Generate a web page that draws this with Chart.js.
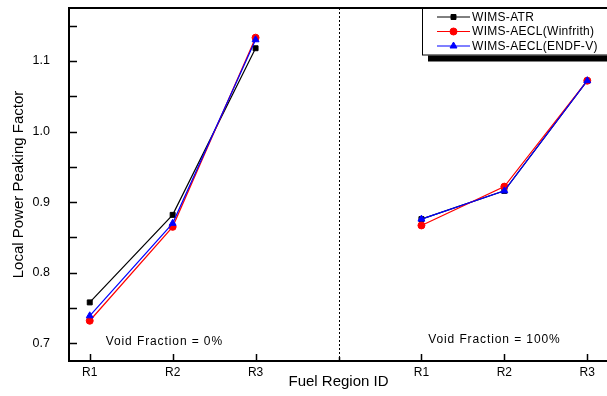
<!DOCTYPE html>
<html><head><meta charset="utf-8">
<script src="https://cdn.jsdelivr.net/npm/chart.js@4/dist/chart.umd.min.js"></script>
<style>html,body{margin:0;padding:0;background:#fff;overflow:hidden;width:607px;height:396px}canvas{display:block}</style>
</head><body><canvas id="c" width="613" height="396"></canvas>
<script>
const regions = ['R1', 'R2', 'R3'];
const panelNotes = ['Void Fraction = 0%', 'Void Fraction = 100%'];
const seriesNames = ['WIMS-ATR', 'WIMS-AECL(Winfrith)', 'WIMS-AECL(ENDF-V)'];
const atrVoid0 = [0.758, 0.882, 1.118];
const winVoid0 = [0.732, 0.865, 1.133];
const endfVoid0 = [0.739, 0.870, 1.130];
const atrVoid100 = [0.876, 0.916, 1.072];
const winVoid100 = [0.867, 0.922, 1.072];
const endfVoid100 = [0.876, 0.916, 1.072];
const yTickValues = [0.70, 0.75, 0.80, 0.85, 0.90, 0.95, 1.00, 1.05, 1.10, 1.15];
const yLabelValues = [0.7, 0.8, 0.9, 1.0, 1.1];

const FONT = 'Arial, "Liberation Sans", sans-serif';
Chart.defaults.font.family = FONT;
Chart.defaults.color = '#000';

// x positions: left panel slots 1..3, divider at 4, right panel slots 5..7
function buildSeries(v0, v100) {
  const pts = v0.map((y, i) => ({x: i + 1, y}));
  pts.push({x: 4, y: null});
  v100.forEach((y, i) => pts.push({x: i + 5, y}));
  return pts;
}
const xTickSlots = [1, 2, 3, 4, 5, 6, 7];
function slotLabel(v) {
  if (v >= 1 && v <= 3) return regions[v - 1];
  if (v >= 5 && v <= 7) return regions[v - 5];
  return '';
}

const styles = [
  {color: '#000000', pointStyle: 'rect', radius: 3.5, order: 3},
  {color: '#ff0000', pointStyle: 'circle', radius: 3.5, order: 2},
  {color: '#0000ff', pointStyle: 'triangle', radius: 4, order: 1}
];
const seriesData = [
  buildSeries(atrVoid0, atrVoid100),
  buildSeries(winVoid0, winVoid100),
  buildSeries(endfVoid0, endfVoid100)
];

const decor = {
  id: 'decor',
  afterDraw(chart) {
    const ctx = chart.ctx;
    const a = chart.chartArea;
    const xs = chart.scales.x, ys = chart.scales.y;
    ctx.save();
    // frame
    ctx.strokeStyle = '#000';
    ctx.lineWidth = 2;
    ctx.beginPath();
    ctx.moveTo(a.left, a.top); ctx.lineTo(a.right, a.top);
    ctx.moveTo(a.left, a.top - 1); ctx.lineTo(a.left, a.bottom + 1);
    ctx.moveTo(a.left, a.bottom); ctx.lineTo(a.right, a.bottom);
    ctx.stroke();
    // inward ticks
    ctx.lineWidth = 1.5;
    ctx.beginPath();
    ys.ticks.forEach(t => {
      const py = Math.round(ys.getPixelForValue(t.value)) + 0.5;
      ctx.moveTo(a.left, py); ctx.lineTo(a.left + 8, py);
    });
    xs.ticks.forEach(t => {
      const px = Math.round(xs.getPixelForValue(t.value)) + 0.5;
      const len = t.value === 4 ? 4 : 7;
      ctx.moveTo(px, a.bottom); ctx.lineTo(px, a.bottom - len);
    });
    ctx.stroke();
    // dotted divider
    const dx = Math.round(xs.getPixelForValue(4)) + 0.5;
    ctx.lineWidth = 1;
    ctx.setLineDash([2, 2]);
    ctx.beginPath();
    ctx.moveTo(dx, a.top); ctx.lineTo(dx, a.bottom);
    ctx.stroke();
    ctx.setLineDash([]);
    // panel notes
    ctx.fillStyle = '#000';
    ctx.font = '12px ' + FONT;
    ctx.letterSpacing = '0.9px';
    ctx.textAlign = 'center';
    ctx.textBaseline = 'middle';
    ctx.fillText(panelNotes[0], xs.getPixelForValue(1.9), ys.getPixelForValue(0.703));
    ctx.fillText(panelNotes[1], xs.getPixelForValue(5.88), ys.getPixelForValue(0.705));
    ctx.letterSpacing = '0px';
    // legend
    const lx = 422.5, ly = 8.5, lw = 200, lh = 46.5;
    ctx.fillStyle = '#000';
    ctx.fillRect(428, 55.5, 200, 6);
    ctx.fillStyle = '#fff';
    ctx.fillRect(lx, ly, lw, lh);
    ctx.strokeStyle = '#000';
    ctx.lineWidth = 1;
    ctx.strokeRect(lx, ly, lw, lh);
    ctx.lineWidth = 2;
    ctx.beginPath(); ctx.moveTo(lx - 0.5, a.top); ctx.lineTo(a.right, a.top); ctx.stroke();
    ctx.font = '12px ' + FONT;
    ctx.textAlign = 'left';
    ctx.letterSpacing = '0.3px';
    const rowY = [17, 31.5, 46];
    seriesNames.forEach((name, i) => {
      const s = styles[i];
      const y = rowY[i];
      ctx.strokeStyle = s.color;
      ctx.lineWidth = 1;
      ctx.beginPath(); ctx.moveTo(437, y); ctx.lineTo(470, y); ctx.stroke();
      ctx.fillStyle = s.color;
      Chart.helpers.drawPoint(ctx, {pointStyle: s.pointStyle, radius: s.radius, rotation: 0, borderWidth: 1}, 453.5, y);
      ctx.fillStyle = '#000';
      ctx.fillText(name, 472, y + 0.5);
    });
    ctx.restore();
  }
};

new Chart(document.getElementById('c'), {
  type: 'line',
  data: {
    datasets: seriesNames.map((name, i) => ({
      label: name,
      data: seriesData[i],
      borderColor: styles[i].color,
      backgroundColor: styles[i].color,
      pointBackgroundColor: styles[i].color,
      pointBorderColor: styles[i].color,
      pointStyle: styles[i].pointStyle,
      pointRadius: styles[i].radius,
      pointBorderWidth: 1,
      borderWidth: 1.2,
      spanGaps: false,
      tension: 0,
      order: styles[i].order
    }))
  },
  options: {
    responsive: false,
    animation: false,
    devicePixelRatio: 1,
    layout: {padding: {top: 8, right: 0, left: 0, bottom: 0}},
    plugins: {legend: {display: false}, tooltip: {enabled: false}},
    scales: {
      x: {
        type: 'linear', min: 0.75, max: 7.25,
        afterBuildTicks: s => { s.ticks = xTickSlots.map(v => ({value: v})); },
        afterFit: s => { s.height = 35; s.paddingLeft = 0; s.paddingRight = 0; s.paddingTop = 0; s.paddingBottom = 0; },
        grid: {display: false, drawTicks: false},
        border: {display: false},
        ticks: {callback: v => slotLabel(v), font: {size: 12}, color: '#000', padding: 4, maxRotation: 0, autoSkip: false},
        title: {display: true, text: 'Fuel Region ID', font: {size: 15}, color: '#000', padding: {top: 0, bottom: 5}}
      },
      y: {
        min: 0.675, max: 1.175,
        afterBuildTicks: s => { s.ticks = yTickValues.map(v => ({value: v})); },
        afterFit: s => { s.width = 69; s.paddingTop = 0; s.paddingBottom = 0; s.paddingLeft = 0; s.paddingRight = 0; },
        grid: {display: false, drawTicks: false},
        border: {display: false},
        ticks: {
          callback: v => yLabelValues.some(l => Math.abs(l - v) < 1e-6) ? v.toFixed(1) : '',
          font: {size: 12.5}, color: '#000', padding: 19, autoSkip: false
        },
        title: {display: true, text: 'Local Power Peaking Factor', font: {size: 15}, color: '#000', padding: {top: 10, bottom: 0}}
      }
    }
  },
  plugins: [decor]
});
</script>
</body></html>
